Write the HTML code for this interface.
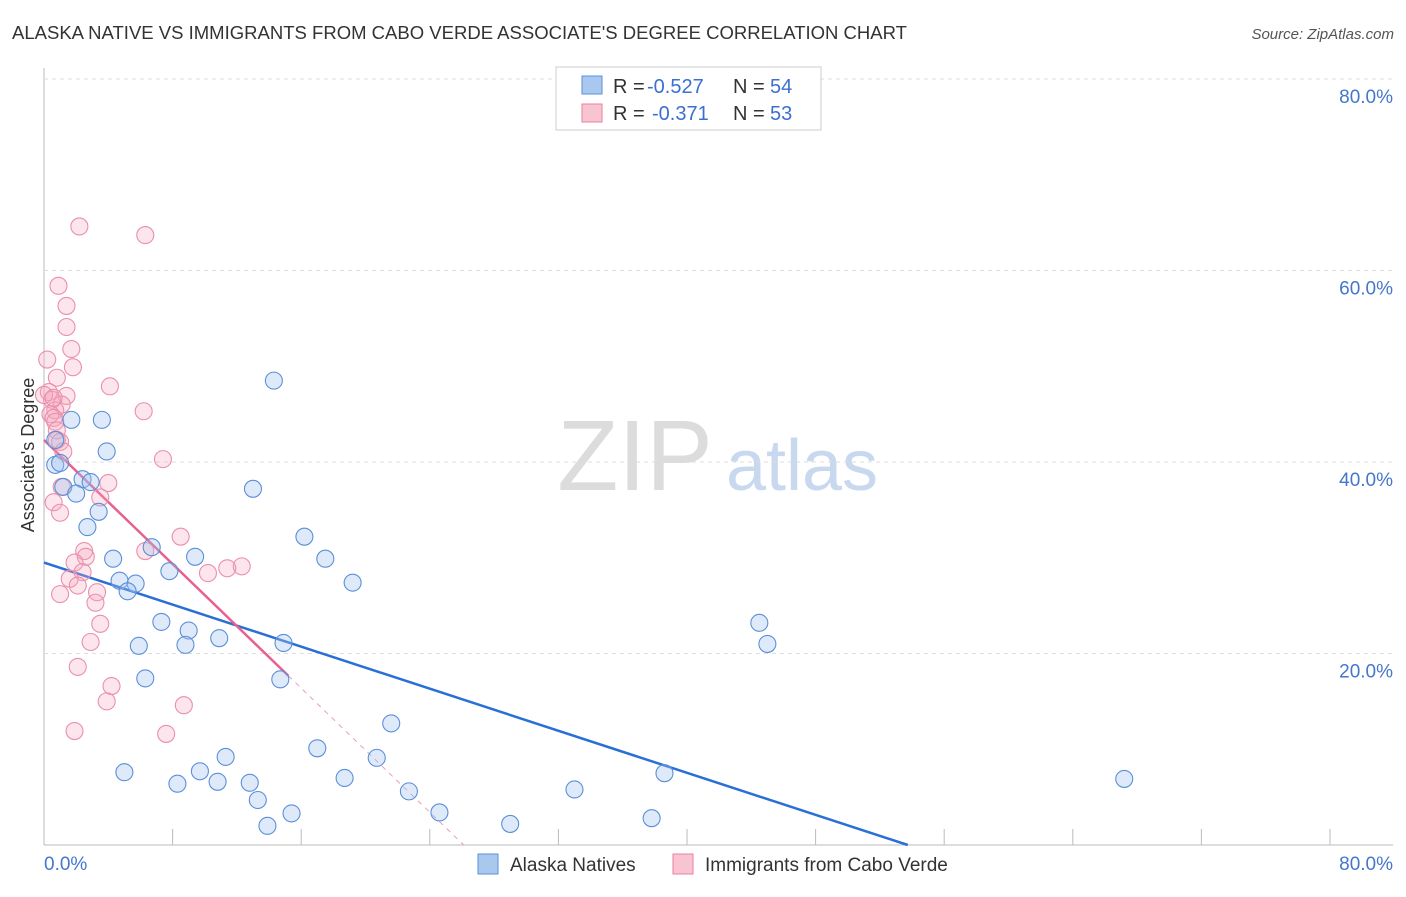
<!DOCTYPE html>
<html><head><meta charset="utf-8"><style>
body{margin:0;background:#fff;font-family:"Liberation Sans",sans-serif}
svg text{font-family:"Liberation Sans",sans-serif}
</style></head><body>
<svg id="c" width="1406" height="892">
<text x="12" y="39" font-size="18" fill="#333" textLength="895" lengthAdjust="spacingAndGlyphs">ALASKA NATIVE VS IMMIGRANTS FROM CABO VERDE ASSOCIATE'S DEGREE CORRELATION CHART</text>
<text x="1394" y="39" font-size="15" fill="#555" font-style="italic" text-anchor="end">Source: ZipAtlas.com</text>
<text x="635" y="490" font-size="100" fill="#dcdcdc" font-family="Liberation Serif" text-anchor="middle">ZIP</text>
<text x="802" y="490" font-size="72" fill="#c8d8ee" text-anchor="middle">atlas</text>
<text transform="translate(34,455) rotate(-90)" font-size="18" fill="#333" text-anchor="middle">Associate's Degree</text>
<g id="grid"></g><g id="lines"></g><g id="pts"></g>
<g>
<rect x="556" y="67" width="265" height="63" fill="#fff" stroke="#ccc"/>
<rect x="582" y="76" width="20" height="18" fill="#a8c8f0" stroke="#5b8fd8"/>
<rect x="582" y="104" width="20" height="18" fill="#f8c4d2" stroke="#e87fa0"/>
<text x="613" y="93" font-size="20" fill="#333">R = </text><text x="647" y="93" font-size="20" fill="#3b6fd0">-0.527</text>
<text x="733" y="93" font-size="20" fill="#333">N = </text><text x="770" y="93" font-size="20" fill="#3b6fd0">54</text>
<text x="613" y="120" font-size="20" fill="#333">R = </text><text x="652" y="120" font-size="20" fill="#3b6fd0">-0.371</text>
<text x="733" y="120" font-size="20" fill="#333">N = </text><text x="770" y="120" font-size="20" fill="#3b6fd0">53</text>
</g>
<g>
<rect x="478" y="854" width="20" height="20" fill="#a8c8f0" stroke="#5b8fd8"/>
<text x="510" y="871" font-size="19" fill="#333">Alaska Natives</text>
<rect x="673" y="854" width="20" height="20" fill="#f8c4d2" stroke="#e87fa0"/>
<text x="705" y="871" font-size="19" fill="#333">Immigrants from Cabo Verde</text>
</g>
</svg>
<script>
const xTicks=[0,8,16,24,32,40,48,56,64,72,80];
const yTicks=[20,40,60,80];
const yTickLabels=["20.0%","40.0%","60.0%","80.0%"];
const xLabels=["0.0%","80.0%"];
const blueX=[14.3,1.7,3.6,0.7,3.9,0.7,1.0,2.4,2.9,1.2,2.0,13.0,3.4,2.7,6.7,4.3,9.4,16.2,17.5,7.8,4.7,5.7,5.2,19.2,7.3,9.0,8.8,10.9,5.9,14.9,6.3,14.7,44.5,45.0,21.6,17.0,11.3,20.7,5.0,9.7,18.7,8.3,10.8,12.8,38.6,67.2,22.7,13.3,33.0,13.9,15.4,24.6,29.0,37.8];
const blueY=[48.5,44.4,44.4,42.3,41.1,39.7,39.9,38.2,37.9,37.4,36.7,37.2,34.8,33.2,31.1,29.9,30.1,32.2,29.9,28.6,27.6,27.3,26.5,27.4,23.3,22.4,20.9,21.6,20.8,21.1,17.4,17.3,23.2,21.0,12.7,10.1,9.2,9.1,7.6,7.7,7.0,6.4,6.6,6.5,7.5,6.9,5.6,4.7,5.8,2.0,3.3,3.4,2.2,2.8];
const pinkX=[2.2,6.3,0.9,1.4,1.4,1.7,0.2,1.8,0.8,4.1,0.3,1.4,6.2,0.5,1.1,0.7,0.4,0.6,0.7,0.8,0.8,1.0,1.2,7.4,4.0,1.1,3.5,0.6,1.0,8.5,2.5,6.3,2.6,1.9,2.4,1.6,12.3,11.4,10.2,2.1,3.3,1.0,3.2,3.5,2.9,2.1,4.2,3.9,8.7,1.9,7.6,0.0,0.6];
const pinkY=[64.6,63.7,58.4,56.3,54.1,51.8,50.7,49.9,48.8,47.9,47.3,46.9,45.3,46.5,46.0,45.4,45.0,44.6,44.2,43.3,42.3,42.1,41.1,40.3,37.8,37.4,36.3,35.8,34.7,32.2,30.7,30.7,30.1,29.5,28.5,27.8,29.1,28.9,28.4,27.1,26.4,26.2,25.3,23.1,21.2,18.6,16.6,15.0,14.6,11.9,11.6,47.0,46.7];
const blueFit=[29.5,-0.549];
const pinkFit=[42.3,-1.62];
const pinkSolidEnd=[15.2];
const X=v=>44+v*(1286/80), Y=v=>845-v*(191.5/20);
const NS="http://www.w3.org/2000/svg";
function mk(tag,attrs,parent){const e=document.createElementNS(NS,tag);for(const k in attrs)e.setAttribute(k,attrs[k]);document.getElementById(parent).appendChild(e);return e;}
let e=mk('line',{x1:44,y1:68,x2:44,y2:845,stroke:'#bbb'},'grid');


e=mk('line',{x1:44,y1:845,x2:1393,y2:845,stroke:'#bbb'},'grid');


yTicks.forEach((t,i)=>{
 let g=mk('line',{x1:44,x2:1393,y1:Y(t),y2:Y(t),stroke:'#ddd','stroke-dasharray':'4,4'},'grid');
 
 
 let tx=mk('text',{x:1393,y:Y(t)+24,'font-size':19,fill:'#4477cc','text-anchor':'end'},'grid');tx.textContent=yTickLabels[i];
 
 
});
xTicks.forEach(t=>{
 let g=mk('line',{x1:X(t),x2:X(t),y1:829,y2:845,stroke:'#bbb'},'grid');
 
 
});
let a=mk('text',{x:44,y:870,'font-size':19,fill:'#4477cc'},'grid');a.textContent=xLabels[0];


a=mk('text',{x:1393,y:870,'font-size':19,fill:'#4477cc','text-anchor':'end'},'grid');a.textContent=xLabels[1];


pinkX.forEach((v,i)=>{let c=mk('circle',{cx:X(v),cy:Y(pinkY[i]),r:8.5,fill:'rgba(244,170,192,0.3)',stroke:'#eb8fab','stroke-width':1.1},'pts');
 
 });
blueX.forEach((v,i)=>{let c=mk('circle',{cx:X(v),cy:Y(blueY[i]),r:8.5,fill:'rgba(160,195,240,0.35)',stroke:'#5b8fd8','stroke-width':1.1},'pts');
 
 });
const bEnd=-blueFit[0]/blueFit[1];
let l=mk('line',{x1:X(0),y1:Y(blueFit[0]),x2:X(bEnd),y2:Y(0),stroke:'#2a6fd6','stroke-width':2.5},'lines');


const pEnd=-pinkFit[0]/pinkFit[1];
l=mk('line',{x1:X(pinkSolidEnd[0]),y1:Y(pinkFit[0]+pinkFit[1]*pinkSolidEnd[0]),x2:X(pEnd),y2:Y(0),stroke:'#e8a0b8','stroke-width':1,'stroke-dasharray':'5,5'},'lines');


l=mk('line',{x1:X(0),y1:Y(pinkFit[0]),x2:X(pinkSolidEnd[0]),y2:Y(pinkFit[0]+pinkFit[1]*pinkSolidEnd[0]),stroke:'#e8608f','stroke-width':2.5},'lines');


</script>
</body></html>
